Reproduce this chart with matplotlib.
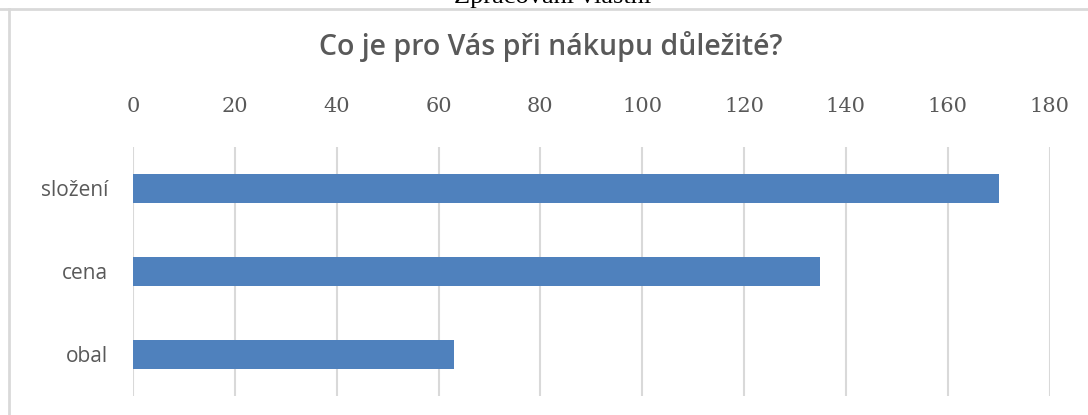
import matplotlib.pyplot as plt
from matplotlib.lines import Line2D

# data
kategorie = ['složení', 'cena', 'obal']
pocty = [170, 135, 63]
osa_ticks = [0, 20, 40, 60, 80, 100, 120, 140, 160, 180]

W, H = 1088, 415
fig = plt.figure(figsize=(W / 100, H / 100), dpi=100)
ax = fig.add_axes([133 / W, 1 - 395.7 / H, (1049.5 - 133) / W, (395.7 - 146.7) / H])

seda = '#595959'
ax.barh(range(len(kategorie)), pocty, height=0.35, color='#4F81BD', zorder=3)
ax.set_xlim(0, 180)
ax.set_ylim(len(kategorie) - 0.5, -0.5)
ax.set_xticks(osa_ticks)
ax.set_yticks(range(len(kategorie)))
ax.set_yticklabels(kategorie, fontsize=15, color=seda, family='Open Sans')
ax.xaxis.tick_top()
ax.tick_params(axis='x', length=0, pad=22, labelsize=15, labelcolor=seda)
ax.tick_params(axis='y', length=0, pad=18)
for t in ax.get_xticklabels():
    t.set_family('DejaVu Serif')
ax.grid(axis='x', color='#d9d9d9', linewidth=1.5, zorder=0)
for s in ax.spines.values():
    s.set_visible(False)

# ramecek grafu
fig.add_artist(Line2D([0, 1], [1 - 9.5 / H] * 2, color='#d9d9d9', lw=2, transform=fig.transFigure))
fig.add_artist(Line2D([8.5 / W] * 2, [0, 1 - 9.5 / H], color='#d9d9d9', lw=2, transform=fig.transFigure))

fig.text(551 / W, 1 - 47 / H, 'Co je pro Vás při nákupu důležité?', ha='center', va='center',
         fontsize=20.5, color=seda, family='Open Sans', weight='semibold')
fig.text(553 / W, 1 - 3 / H, 'Zpracování vlastní', ha='center', va='baseline',
         fontsize=19, color='black', family='Liberation Serif')

fig.savefig('out.png', dpi=100)
